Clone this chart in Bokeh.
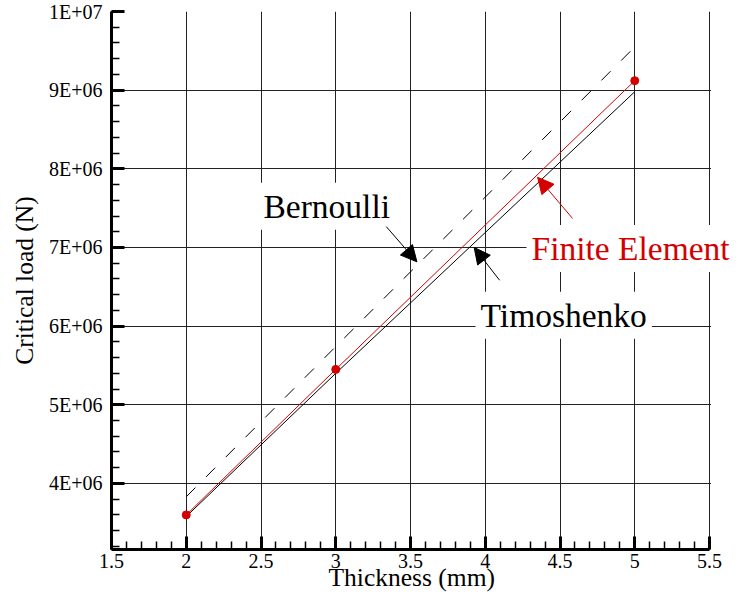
from bokeh.plotting import figure
from bokeh.models import FixedTicker, Label, Arrow, NormalHead, Range1d, BoxAnnotation
from bokeh.embed import file_html
from bokeh.resources import INLINE

# ---- data ----
thickness = [2, 3, 4, 5]
bernoulli = [3.83e6, 5.74e6, 7.64e6, 9.55e6]
timoshenko = [3.58e6, 5.40e6, 7.19e6, 8.98e6]
fe_thickness = [2, 3, 5]
finite_element = [3.60e6, 5.45e6, 9.12e6]

x_ticks = [1.5, 2, 2.5, 3, 3.5, 4, 4.5, 5, 5.5]
x_tick_labels = ["1.5", "2", "2.5", "3", "3.5", "4", "4.5", "5", "5.5"]
x_minor = [round(1.5 + 0.1 * i, 1) for i in range(41)]
y_ticks = [4e6, 5e6, 6e6, 7e6, 8e6, 9e6, 1e7]
y_tick_labels = ["4E+06", "5E+06", "6E+06", "7E+06", "8E+06", "9E+06", "1E+07"]
y_minor = [round(3.2e6 + 0.2e6 * i) for i in range(35)]

FONT = "Liberation Serif"
RED = "#d40000"

W, H = 737, 595
FRAME_L, FRAME_T, FRAME_B = 111, 11, 549
X0, X1 = 1.5, 5.5
PX_PER_X = (709 - FRAME_L) / (X1 - X0)
x_end = X1 + (W - 709) / PX_PER_X   # frame runs to the canvas edge so labels are not clipped

p = figure(width=W, height=H,
           x_range=Range1d(X0, x_end), y_range=Range1d(3.16e6, 1e7),
           output_backend="svg", toolbar_location=None,
           min_border_left=FRAME_L, min_border_right=0,
           min_border_top=FRAME_T, min_border_bottom=H - FRAME_B,
           background_fill_color="white", border_fill_color="white")
p.outline_line_color = None

# axes
p.xaxis.ticker = FixedTicker(ticks=x_ticks, minor_ticks=x_minor)
p.yaxis.ticker = FixedTicker(ticks=y_ticks, minor_ticks=y_minor)
p.xaxis.major_label_overrides = {t: l for t, l in zip(x_ticks, x_tick_labels)}
p.yaxis.major_label_overrides = {int(t): l for t, l in zip(y_ticks, y_tick_labels)}
p.xaxis.bounds = (X0, X1)

for ax in (p.xaxis[0], p.yaxis[0]):
    ax.axis_line_width = 3
    ax.axis_line_color = "black"
    ax.major_tick_in = 13
    ax.major_tick_out = 0
    ax.minor_tick_in = 8
    ax.minor_tick_out = 0
    ax.major_tick_line_width = 3
    ax.minor_tick_line_width = 1.5
    ax.major_tick_line_color = "black"
    ax.minor_tick_line_color = "black"
    ax.major_label_text_font = FONT
    ax.major_label_text_font_size = "20px"
    ax.major_label_text_color = "black"
    ax.axis_label_text_font = FONT
    ax.axis_label_text_font_size = "25.5px"
    ax.axis_label_text_font_style = "normal"
    ax.axis_label_text_color = "black"

# trailing no-break spaces shift the centred title left, to the centre of the 1.5-5.5 span
p.xaxis.axis_label = "Thickness (mm)" + "\u00a0" * 4
p.yaxis.axis_label = "Critical load (N)"
p.xaxis.major_label_standoff = 4
p.xaxis.axis_label_standoff = -8
p.yaxis.major_label_standoff = 9
p.yaxis.axis_label_standoff = 7

p.grid.grid_line_color = "#222222"
p.grid.grid_line_width = 1

# series
p.line(thickness, bernoulli, line_color="black", line_width=1, line_dash="13 15")
p.line(thickness, timoshenko, line_color="black", line_width=1)
p.line(fe_thickness, finite_element, line_color=RED, line_width=1)
p.scatter(fe_thickness, finite_element, size=8, fill_color=RED, line_color=RED)

# blank the strip right of x = 5.5 (the plot ends there)
p.add_layout(BoxAnnotation(left=X1 + 1.5 / PX_PER_X, fill_color="white", fill_alpha=1,
                           line_color=None))

# annotations
def add_label(x, y, text, color):
    p.add_layout(Label(x=x, y=y, text=text, text_font=FONT, text_font_size="33.5px",
                       text_color=color, text_baseline="alphabetic", text_align="left",
                       background_fill_color="white", padding=5))

add_label(2.483, 7.524e6, "Bernoulli", "black")
add_label(3.935, 6.139e6, "Timoshenko", "black")
add_label(4.276, 6.987e6, "Finite Element", RED)

def add_arrow(xs, ys, xe, ye, color):
    p.add_layout(Arrow(end=NormalHead(size=16, fill_color=color, line_color=color),
                       x_start=xs, y_start=ys, x_end=xe, y_end=ye,
                       line_color=color, line_width=1))

add_arrow(3.338, 7.265e6, 3.543, 6.817e6, "black")
add_arrow(4.096, 6.583e6, 3.926, 7.00e6, "black")
add_arrow(4.584, 7.369e6, 4.350, 7.893e6, RED)

open("out.html", "w").write(file_html(p, INLINE))
